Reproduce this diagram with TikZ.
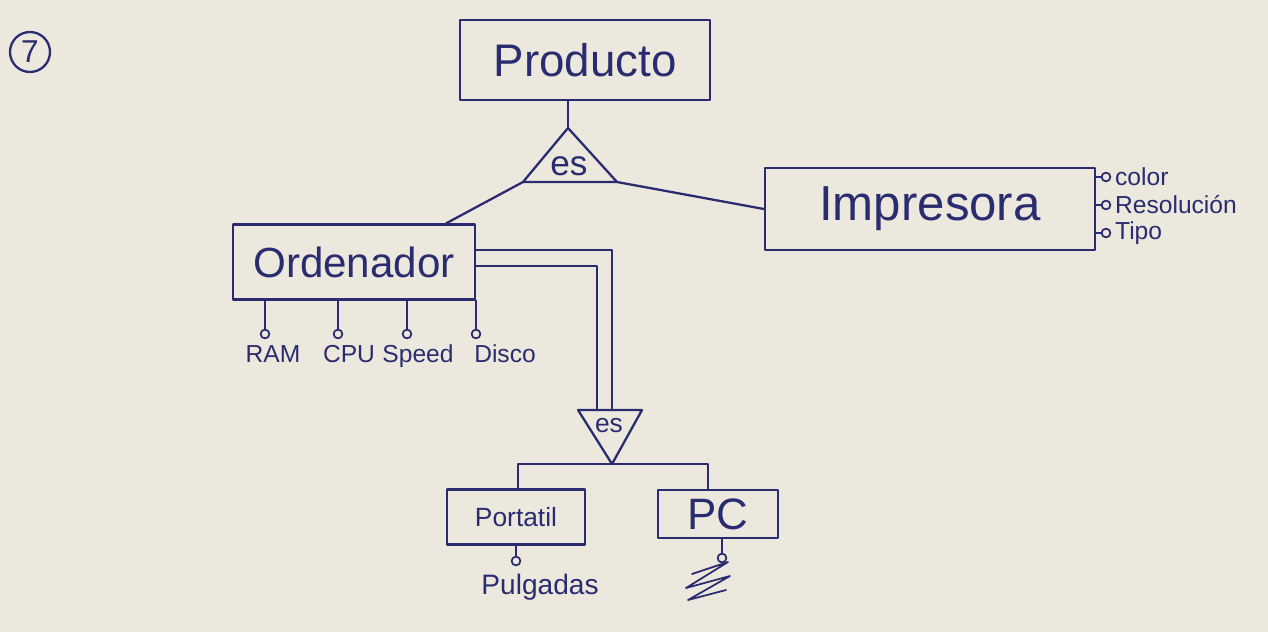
\documentclass[tikz,border=0pt]{standalone}
\usepackage{fontspec}
\setmainfont{Liberation Sans}
\usetikzlibrary{positioning, calc}
\definecolor{ink}{RGB}{42, 44, 112}
\definecolor{paper}{RGB}{236, 232, 221}

\begin{document}
\begin{tikzpicture}[
  x=0.02cm, y=-0.02cm,
  pen/.style={draw=ink, line width=1.3pt, line cap=round, line join=round},
  entbox/.style={pen, minimum width=5cm, minimum height=1.6cm, inner sep=4pt, text=ink, font=\fontsize{26}{30}\selectfont},
  subbox/.style={pen, inner sep=4pt, text=ink},
  attrdot/.style={circle, pen, line width=1pt, inner sep=0pt, minimum size=5pt},
  attrlbl/.style={text=ink, inner sep=1pt, font=\fontsize{14}{17}\selectfont},
  isalbl/.style={text=ink, inner sep=0pt}
]
  \fill[paper] (0,0) rectangle (1268,632);

  % exercise number
  \node[circle, pen, minimum size=0.8cm, inner sep=0pt, text=ink, font=\fontsize{18}{20}\selectfont] (num) at (30,52) {7};

  % entities
  \node[entbox] (producto) at (585,60) {Producto};
  \node[entbox, minimum width=4.84cm, minimum height=1.5cm, font=\fontsize{24}{28}\selectfont] (ordenador) at (354,262) {Ordenador};
  \node[entbox, minimum width=6.6cm, minimum height=1.64cm, font=\fontsize{28}{32}\selectfont] (impresora) at (930,209) {Impresora};
  \node[subbox, minimum width=2.76cm, minimum height=1.1cm, font=\fontsize{15}{18}\selectfont] (portatil) at (516,517) {Portatil};
  \node[subbox, minimum width=2.4cm, minimum height=0.96cm, font=\fontsize{25}{28}\selectfont] (pc) at (718,514) {PC};

  % upper es triangle
  \coordinate (es1top) at (568,128);
  \coordinate (es1l) at (523,182);
  \coordinate (es1r) at (617,182);
  \draw[pen] (es1top) -- (es1l) -- (es1r) -- cycle;
  \node[isalbl, font=\fontsize{20}{22}\selectfont] (es1) at (569,166) {es};
  \draw[pen] (producto.south -| es1top) -- (es1top);
  \draw[pen] (es1l) -- ([xshift=-0.6cm]ordenador.north east);
  \draw[pen] (es1r) -- (impresora.west);

  % lower es triangle, total (double line)
  \coordinate (es2l) at (578,410);
  \coordinate (es2r) at (642,410);
  \coordinate (es2bot) at (612,464);
  \coordinate (es2a) at (597,410);
  \coordinate (es2b) at (612,410);
  \draw[pen] (es2l) -- (es2r) -- (es2bot) -- cycle;
  \node[isalbl, font=\fontsize{15}{18}\selectfont] (es2) at (609,426) {es};
  \draw[pen] ($(ordenador.east)+(0,-12)$) -| (es2b);
  \draw[pen] ($(ordenador.east)+(0,4)$) -| (es2a);
  \draw[pen] ([xshift=0.04cm]portatil.north) |- (es2bot) -| ([xshift=-0.2cm]pc.north);

  % attributes of Ordenador
  \foreach \nm/\lbl/\x/\lx in {ram/RAM/265/273, cpu/CPU/338/349, speed/Speed/407/418, disco/Disco/476/505} {
    \node[attrdot] (\nm) at (\x,334) {};
    \draw[pen] (ordenador.south -| \nm) -- (\nm);
    \node[attrlbl, anchor=north] (\nm-lbl) at (\lx,343) {\lbl};
  }

  % attributes of Impresora
  \foreach \nm/\lbl/\y in {color/color/177, reso/Resolución/205, tipo/Tipo/233} {
    \node[attrdot] (\nm) at (1106,\y) {};
    \draw[pen] (impresora.east |- \nm) -- (\nm);
    \node[attrlbl, right=1pt of \nm] (\nm-lbl) {\lbl};
  }

  % attributes of subtypes
  \node[attrdot] (pulg) at (516,561) {};
  \draw[pen] (portatil.south -| pulg) -- (pulg);
  \node[attrlbl, anchor=north, font=\fontsize{16}{19}\selectfont] (pulg-lbl) at (540,572) {Pulgadas};
  \node[attrdot] (pcattr) at (722,558) {};
  \draw[pen] (pc.south -| pcattr) -- (pcattr);
  \draw[pen, line width=1pt] (692,574) -- (728,562) -- (686,588) -- (730,576) -- (688,600) -- (726,590);
\end{tikzpicture}
\end{document}
